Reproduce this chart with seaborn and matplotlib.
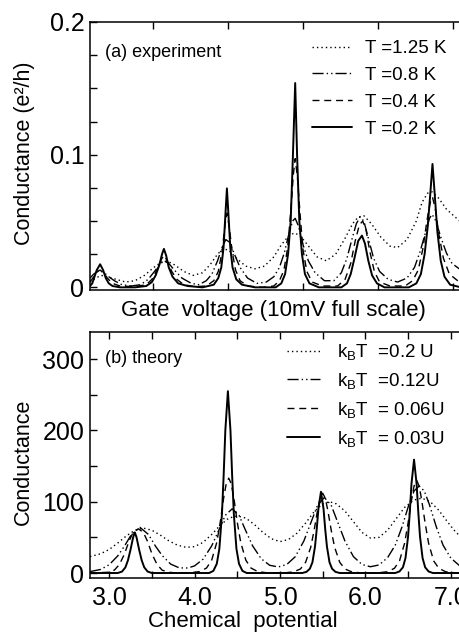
import pandas as pd
import seaborn as sns
import matplotlib.pyplot as plt

# ---- (a) experiment : gate voltage (mV, 10 mV full scale) vs conductance (e^2/h)
exp_labels = ['T =1.25 K', 'T =0.8 K', 'T =0.4 K', 'T =0.2 K']

exp_125K = [(0, 0.004), (0.15, 0.007), (0.3, 0.009), (0.45, 0.008), (0.7, 0.006), (0.95, 0.004),
            (1.2, 0.005), (1.45, 0.009), (1.7, 0.015), (1.9, 0.019), (2.05, 0.02), (2.25, 0.017),
            (2.5, 0.012), (2.75, 0.009), (3.0, 0.011), (3.2, 0.017), (3.4, 0.025), (3.55, 0.029),
            (3.7, 0.028), (3.9, 0.022), (4.15, 0.016), (4.4, 0.014), (4.65, 0.016), (4.9, 0.023),
            (5.1, 0.032), (5.3, 0.039), (5.45, 0.041), (5.6, 0.039), (5.8, 0.032), (6.05, 0.023),
            (6.3, 0.02), (6.55, 0.025), (6.8, 0.037), (7.0, 0.048), (7.15, 0.053), (7.3, 0.054),
            (7.5, 0.048), (7.75, 0.038), (8.0, 0.031), (8.2, 0.030), (8.45, 0.036), (8.7, 0.05),
            (8.85, 0.064), (9.0, 0.071), (9.12, 0.072), (9.3, 0.067), (9.5, 0.059), (9.89, 0.049)]

exp_08K = [(0, 0.007), (0.1, 0.010), (0.2, 0.012), (0.27, 0.0124), (0.38, 0.011), (0.5, 0.008),
           (0.65, 0.005), (0.85, 0.002), (1.1, 0.001), (1.35, 0.002), (1.55, 0.006), (1.72, 0.012),
           (1.85, 0.017), (1.97, 0.020), (2.1, 0.018), (2.25, 0.013), (2.45, 0.007), (2.7, 0.003),
           (2.9, 0.002), (3.1, 0.005), (3.25, 0.01), (3.4, 0.02), (3.52, 0.03), (3.62, 0.036),
           (3.72, 0.034), (3.85, 0.025), (4.0, 0.015), (4.2, 0.007), (4.45, 0.003), (4.7, 0.004),
           (4.9, 0.008), (5.05, 0.015), (5.18, 0.026), (5.3, 0.04), (5.4, 0.05), (5.47, 0.052),
           (5.56, 0.046), (5.68, 0.032), (5.82, 0.02), (6.0, 0.011), (6.25, 0.005), (6.5, 0.005),
           (6.7, 0.011), (6.85, 0.022), (6.98, 0.036), (7.1, 0.048), (7.2, 0.053), (7.3, 0.05),
           (7.42, 0.037), (7.56, 0.022), (7.72, 0.012), (7.95, 0.006), (8.2, 0.004), (8.45, 0.007),
           (8.65, 0.015), (8.8, 0.027), (8.95, 0.042), (9.05, 0.052), (9.12, 0.055), (9.22, 0.05),
           (9.35, 0.038), (9.5, 0.026), (9.65, 0.018), (9.89, 0.013)]

exp_04K = [(0, 0.004), (0.1, 0.008), (0.2, 0.012), (0.27, 0.013), (0.36, 0.011), (0.46, 0.007),
           (0.6, 0.003), (0.8, 0.001), (1.2, 0.0005), (1.5, 0.002), (1.65, 0.006), (1.78, 0.013),
           (1.9, 0.021), (1.97, 0.024), (2.06, 0.02), (2.18, 0.012), (2.32, 0.006), (2.5, 0.002),
           (2.8, 0.0005), (3.1, 0.001), (3.3, 0.005), (3.42, 0.012), (3.52, 0.027), (3.6, 0.047),
           (3.65, 0.056), (3.71, 0.046), (3.79, 0.027), (3.88, 0.013), (4.0, 0.005), (4.2, 0.001),
           (4.6, 0.0), (4.9, 0.001), (5.05, 0.005), (5.17, 0.013), (5.27, 0.03), (5.36, 0.06),
           (5.42, 0.085), (5.47, 0.097), (5.53, 0.083), (5.6, 0.055), (5.68, 0.028), (5.78, 0.012),
           (5.92, 0.004), (6.2, 0.001), (6.6, 0.001), (6.8, 0.006), (6.95, 0.018), (7.07, 0.035),
           (7.18, 0.047), (7.27, 0.05), (7.36, 0.043), (7.46, 0.027), (7.58, 0.012), (7.72, 0.004),
           (8.0, 0.001), (8.4, 0.001), (8.6, 0.005), (8.75, 0.013), (8.88, 0.03), (8.98, 0.05),
           (9.07, 0.064), (9.13, 0.068), (9.2, 0.06), (9.3, 0.04), (9.42, 0.022), (9.58, 0.01),
           (9.89, 0.003)]

exp_02K = [(0, 0.001), (0.06, 0.003), (0.12, 0.008), (0.18, 0.013), (0.27, 0.0174), (0.35, 0.013),
           (0.42, 0.007), (0.5, 0.003), (0.6, 0.001), (0.8, 0.0), (1.2, 0.0), (1.5, 0.001),
           (1.65, 0.004), (1.75, 0.009), (1.85, 0.017), (1.92, 0.025), (1.97, 0.029), (2.03, 0.024),
           (2.1, 0.015), (2.2, 0.008), (2.35, 0.003), (2.6, 0.001), (3.0, 0.0), (3.3, 0.002),
           (3.42, 0.007), (3.5, 0.015), (3.56, 0.03), (3.61, 0.055), (3.65, 0.0746), (3.69, 0.055),
           (3.74, 0.03), (3.8, 0.015), (3.9, 0.006), (4.05, 0.002), (4.4, 0.0), (4.95, 0.0),
           (5.1, 0.003), (5.2, 0.01), (5.28, 0.025), (5.35, 0.05), (5.41, 0.1), (5.47, 0.154),
           (5.52, 0.1), (5.58, 0.05), (5.65, 0.025), (5.73, 0.01), (5.85, 0.003), (6.1, 0.0),
           (6.7, 0.0), (6.85, 0.003), (6.95, 0.01), (7.05, 0.022), (7.15, 0.035), (7.25, 0.039),
           (7.33, 0.033), (7.42, 0.02), (7.52, 0.009), (7.65, 0.003), (7.85, 0.0), (8.5, 0.0),
           (8.7, 0.003), (8.82, 0.01), (8.92, 0.025), (9.0, 0.045), (9.07, 0.07), (9.13, 0.093),
           (9.19, 0.07), (9.26, 0.042), (9.35, 0.02), (9.45, 0.008), (9.6, 0.002), (9.89, 0.0)]

# ---- (b) theory : chemical potential vs conductance
th_labels = [r'k$_\mathregular{B}$T  =0.2 U', r'k$_\mathregular{B}$T  =0.12U',
             r'k$_\mathregular{B}$T  = 0.06U', r'k$_\mathregular{B}$T  = 0.03U']

th_020 = [(2.775, 23), (2.9, 27), (3.0, 33), (3.1, 42), (3.2, 52), (3.3, 60), (3.4, 63), (3.5, 60),
          (3.6, 53), (3.7, 45), (3.8, 39), (3.9, 36), (4.0, 37), (4.1, 43), (4.2, 54), (4.3, 67),
          (4.4, 77), (4.5, 80), (4.6, 77), (4.7, 68), (4.8, 57), (4.9, 48), (5.0, 44), (5.1, 47),
          (5.2, 56), (5.3, 70), (5.4, 86), (5.5, 97), (5.58, 100), (5.66, 97), (5.76, 87), (5.86, 72),
          (5.96, 57), (6.06, 49), (6.16, 50), (6.26, 60), (6.36, 76), (6.46, 92), (6.56, 102),
          (6.66, 105), (6.76, 100), (6.86, 88), (6.96, 72), (7.04, 60), (7.12, 50)]

th_012 = [(2.775, 2), (2.9, 5), (3.0, 11.6), (3.1, 24), (3.18, 38), (3.26, 54), (3.36, 64), (3.46, 54),
          (3.54, 38), (3.62, 24.5), (3.72, 12.5), (3.82, 7.2), (3.92, 7), (4.0, 10), (4.1, 19.5),
          (4.2, 38), (4.28, 59), (4.36, 81), (4.44, 90), (4.52, 81), (4.6, 59), (4.68, 38), (4.78, 20),
          (4.88, 10.8), (4.98, 8.5), (5.08, 12), (5.18, 23), (5.28, 45), (5.36, 70), (5.44, 95),
          (5.52, 106), (5.6, 95), (5.68, 70), (5.76, 45), (5.86, 23), (5.96, 12), (6.06, 8.8),
          (6.16, 11.3), (6.26, 21.5), (6.35, 39), (6.43, 65), (6.51, 96), (6.57, 115), (6.63, 122),
          (6.69, 115), (6.75, 96), (6.83, 65), (6.91, 39), (7.0, 21), (7.12, 8.5)]

th_006 = [(2.775, 0), (2.98, 1), (3.06, 4), (3.12, 12), (3.18, 27), (3.23, 44), (3.28, 57), (3.34, 62),
          (3.4, 57), (3.45, 44), (3.5, 27), (3.56, 12), (3.62, 4), (3.7, 1), (3.8, 0), (3.96, 0.4),
          (4.06, 2), (4.14, 7), (4.2, 18), (4.26, 43), (4.3, 71), (4.34, 105), (4.37, 125), (4.4, 133),
          (4.43, 125), (4.46, 105), (4.5, 71), (4.54, 43), (4.6, 18), (4.66, 7), (4.74, 2), (4.84, 0.4),
          (4.95, 0), (5.06, 0.3), (5.16, 1.6), (5.24, 5.7), (5.3, 15), (5.36, 36), (5.4, 60), (5.44, 88),
          (5.47, 105), (5.5, 112), (5.53, 105), (5.56, 88), (5.6, 60), (5.64, 36), (5.7, 15), (5.76, 5.7),
          (5.84, 1.6), (5.94, 0.3), (6.05, 0), (6.16, 0.4), (6.26, 1.8), (6.34, 6.6), (6.4, 17),
          (6.46, 42), (6.5, 70), (6.54, 102), (6.57, 122), (6.6, 130), (6.63, 122), (6.66, 102),
          (6.7, 70), (6.74, 42), (6.8, 17), (6.86, 6.6), (6.94, 1.8), (7.04, 0.4), (7.12, 0.2)]

th_003 = [(2.775, 0), (3.1, 0), (3.15, 2), (3.19, 8), (3.22, 18), (3.25, 33), (3.28, 50), (3.3, 57),
          (3.32, 50), (3.35, 33), (3.38, 18), (3.41, 8), (3.45, 2), (3.5, 0), (4.17, 0), (4.22, 3),
          (4.26, 13), (4.29, 34), (4.32, 82), (4.34, 136), (4.36, 200), (4.39, 255), (4.42, 200),
          (4.44, 136), (4.46, 82), (4.49, 34), (4.52, 13), (4.56, 3), (4.61, 0), (5.26, 0), (5.31, 1.6),
          (5.35, 6), (5.38, 15), (5.41, 37), (5.43, 61), (5.45, 90), (5.48, 114), (5.51, 90), (5.53, 61),
          (5.55, 37), (5.58, 15), (5.61, 6), (5.65, 1.6), (5.7, 0), (6.35, 0), (6.4, 2.2), (6.44, 8),
          (6.47, 21), (6.5, 51), (6.52, 85), (6.54, 125), (6.57, 159), (6.6, 125), (6.62, 85),
          (6.64, 51), (6.67, 21), (6.7, 8), (6.74, 2.2), (6.79, 0), (7.12, 0)]

# line styles: dotted, dash-dot-dot, dashed, solid
dash_seqs = [(1, 2.2), (8, 2.2, 1, 2.2, 1, 2.2), (5, 3.5), None]
widths = [1.0, 1.0, 1.0, 1.4]

sns.set_style('ticks')
plt.rcParams['font.family'] = ['Liberation Sans', 'DejaVu Sans']
plt.rcParams['mathtext.default'] = 'regular'
for k in ['text.color', 'axes.labelcolor', 'xtick.color', 'ytick.color', 'axes.edgecolor']:
    plt.rcParams[k] = 'black'

fig = plt.figure(figsize=(4.59, 6.33), dpi=100)
ax_a = fig.add_axes([90 / 459, 1 - 290 / 633, 371 / 459, 268 / 633])
ax_b = fig.add_axes([90 / 459, 1 - 578 / 633, 371 / 459, 246 / 633])


def draw(ax, curves, labels):
    for pts, lab, seq, lw in zip(curves, labels, dash_seqs, widths):
        df = pd.DataFrame(pts, columns=['x', 'g'])
        sns.lineplot(data=df, x='x', y='g', ax=ax, color='black', lw=lw,
                     estimator=None, sort=False, label=lab)
        if seq is not None:
            ax.lines[-1].set_dashes(seq)
    ax.set_xlabel('')
    ax.set_ylabel('')
    for sp in ax.spines.values():
        sp.set_linewidth(1.1)
    ax.tick_params(which='both', direction='in', top=True, right=False,
                   length=5, width=1, labelsize=18, pad=4)


draw(ax_a, [exp_125K, exp_08K, exp_04K, exp_02K], exp_labels)
ax_a.set_xlim(0, 9.89)
ax_a.set_ylim(-0.002, 0.2)
ax_a.set_xticks([1.68, 3.68, 5.68, 7.68, 9.68])
ax_a.set_xticklabels([])
ax_a.set_yticks([0, 0.1, 0.2])
ax_a.set_yticklabels(['0', '0.1', '0.2'])
ax_a.set_yticks([0.025, 0.05, 0.075, 0.125, 0.15, 0.175], minor=True)
ax_a.text(0.04, 0.888, '(a) experiment', transform=ax_a.transAxes, fontsize=13, va='center')
ax_a.legend(handles=ax_a.get_lines(), labels=exp_labels, loc='upper left',
            bbox_to_anchor=(0.598, 0.933), frameon=False, fontsize=13.5, handlelength=2.13,
            handletextpad=0.7, labelspacing=0.52, borderpad=0, borderaxespad=0)

draw(ax_b, [th_020, th_012, th_006, th_003], th_labels)
ax_b.set_xlim(2.775, 7.12)
ax_b.set_ylim(-7, 338)
ax_b.set_xticks([3, 4, 5, 6, 7])
ax_b.set_xticklabels(['3.0', '4.0', '5.0', '6.0', '7.0'])
ax_b.set_xticks([3.5, 4.5, 5.5, 6.5], minor=True)
ax_b.set_yticks([0, 100, 200, 300])
ax_b.set_yticklabels(['0', '100', '200', '300'])
ax_b.set_yticks([50, 150, 250], minor=True)
ax_b.tick_params(axis='x', which='both', pad=6)
ax_b.text(0.04, 0.894, '(b) theory', transform=ax_b.transAxes, fontsize=13, va='center')
ax_b.legend(handles=ax_b.get_lines(), labels=th_labels, loc='upper left',
            bbox_to_anchor=(0.531, 0.959), frameon=False, fontsize=13.5, handlelength=1.75,
            handletextpad=0.9, labelspacing=0.47, borderpad=0, borderaxespad=0)

fig.text(273 / 459, 1 - 311 / 633, 'Gate  voltage (10mV full scale)', fontsize=16,
         ha='center', va='center')
fig.text(243 / 459, 1 - 621 / 633, 'Chemical  potential', fontsize=16, ha='center', va='center')
fig.text(25 / 459, 1 - 153 / 633, 'Conductance (e²/h)', fontsize=15.5, rotation=90,
         ha='center', va='center')
fig.text(23 / 459, 1 - 462 / 633, 'Conductance', fontsize=15.5, rotation=90,
         ha='center', va='center')

fig.savefig('out.png', dpi=100)
